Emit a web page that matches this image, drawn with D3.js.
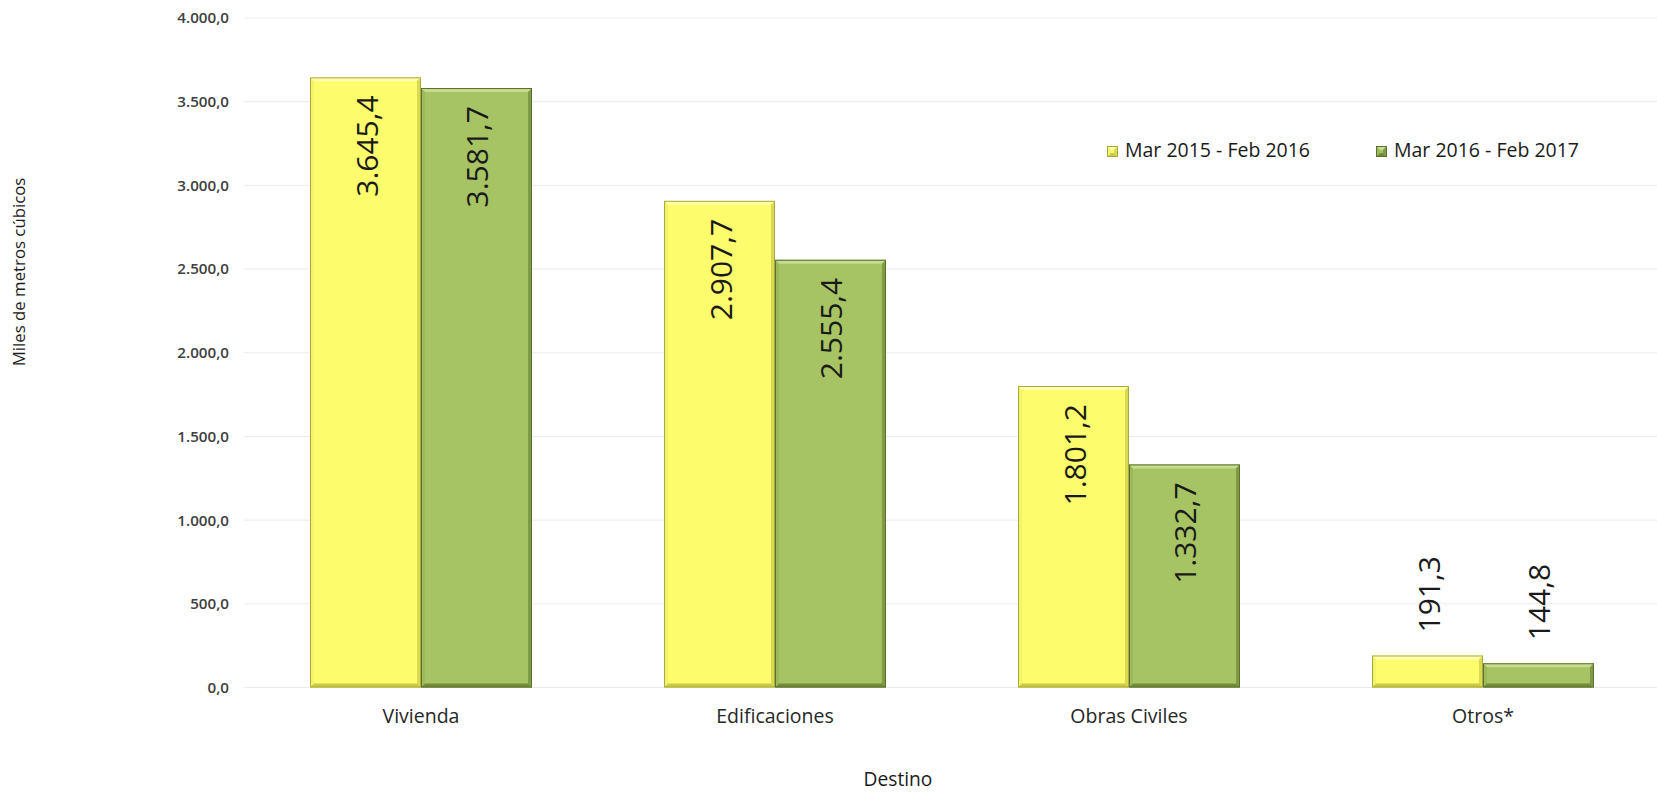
<!DOCTYPE html>
<html>
<head>
<meta charset="utf-8">
<script src="https://cdn.jsdelivr.net/npm/d3@7"></script>
<style>
  html, body { margin: 0; padding: 0; background: #ffffff; }
  svg { display: block; font-family: "Open Sans", "Noto Sans", sans-serif; }
</style>
</head>
<body>
<svg id="chart" width="1657" height="794"></svg>
<script>
// ---- data ----
const categories = ["Vivienda", "Edificaciones", "Obras Civiles", "Otros*"];
const seriesNames = ["Mar 2015 - Feb 2016", "Mar 2016 - Feb 2017"];
const values2015 = [3645.4, 2907.7, 1801.2, 191.3];
const values2016 = [3581.7, 2555.4, 1332.7, 144.8];
const yTickValues = [0, 500, 1000, 1500, 2000, 2500, 3000, 3500, 4000];
const yTitle = "Miles de metros cúbicos";
const xTitle = "Destino";

// ---- setup ----
const W = 1657, H = 794;
const svg = d3.select("#chart");
const locale = d3.formatLocale({decimal: ",", thousands: ".", grouping: [3], currency: ["", ""]});
const fmt = locale.format(",.1f");

const plot = {left: 244, right: 1660, top: 18, bottom: 687.5};

const x0 = d3.scaleBand().domain(categories)
  .range([plot.left, plot.right])
  .paddingInner(0.373).paddingOuter(0.1865);
const x1 = d3.scaleBand().domain(seriesNames).range([0, x0.bandwidth()]).padding(0);
const y = d3.scaleLinear().domain([0, 4000]).range([plot.bottom, plot.top]);

const palettes = [
  {main: "#fcfc6c", top: "#ffffb0", left: "#f4f46c", right: "#d9d952", bottom: "#c9c94a", stroke: "#a9a93c"},
  {main: "#a6c464", top: "#c6dc92", left: "#9cba5c", right: "#809b46", bottom: "#728c3c", stroke: "#5d702f"}
];

// gridlines
svg.append("g").selectAll("line").data(yTickValues).join("line")
  .attr("x1", plot.left).attr("x2", W)
  .attr("y1", d => y(d)).attr("y2", d => y(d))
  .attr("stroke", "#ebebeb").attr("stroke-width", 1);

// y axis labels
const yAxis = d3.axisLeft(y).tickValues(yTickValues).tickFormat(fmt).tickSize(0).tickPadding(0);
const yg = svg.append("g").attr("transform", `translate(229,0)`).call(yAxis);
yg.select(".domain").remove();
yg.selectAll("text")
  .attr("font-family", "'Open Sans', sans-serif")
  .attr("font-size", 15.2).attr("font-weight", 600).attr("fill", "#404040");

// x axis labels
const xAxis = d3.axisBottom(x0).tickSize(0).tickPadding(0);
const xg = svg.append("g").attr("transform", `translate(0,${plot.bottom})`).call(xAxis);
xg.select(".domain").remove();
xg.selectAll("text")
  .attr("font-family", "'Open Sans', sans-serif")
  .attr("font-size", 19.5).attr("fill", "#262626")
  .attr("dy", null).attr("y", 35.5);

// bevelled bar
function bevelBar(g, x, yTop, w, h, p) {
  const b = Math.min(4, h / 2);
  const bg = g.append("g");
  bg.append("rect").attr("x", x).attr("y", yTop).attr("width", w).attr("height", h).attr("fill", p.main);
  const poly = (pts, fill) => bg.append("polygon").attr("points", pts.map(q => q.join(",")).join(" ")).attr("fill", fill);
  poly([[x, yTop], [x + w, yTop], [x + w - b, yTop + b], [x + b, yTop + b]], p.top);
  poly([[x, yTop], [x + b, yTop + b], [x + b, yTop + h - b], [x, yTop + h]], p.left);
  poly([[x + w, yTop], [x + w, yTop + h], [x + w - b, yTop + h - b], [x + w - b, yTop + b]], p.right);
  poly([[x, yTop + h], [x + b, yTop + h - b], [x + w - b, yTop + h - b], [x + w, yTop + h]], p.bottom);
  bg.append("rect").attr("x", x + 0.5).attr("y", yTop + 0.5).attr("width", w - 1).attr("height", h - 1)
    .attr("fill", "none").attr("stroke", p.stroke).attr("stroke-width", 1);
}

const seriesValues = [values2015, values2016];
const barsG = svg.append("g");
const labelsG = svg.append("g");
categories.forEach((c, i) => {
  seriesNames.forEach((s, j) => {
    const v = seriesValues[j][i];
    const bx = x0(c) + x1(s);
    const bw = x1.bandwidth();
    const yt = y(v);
    const h = y(0) - yt;
    bevelBar(barsG, bx, yt, bw, h, palettes[j]);
    const cx = bx + bw / 2 + 12;
    const inside = h > 130;
    labelsG.append("text")
      .attr("transform", inside ? `translate(${cx},${yt + 18}) rotate(-90)` : `translate(${cx},${yt - 23}) rotate(-90)`)
      .attr("text-anchor", inside ? "end" : "start")
      .attr("font-family", "'Open Sans', sans-serif")
      .attr("font-size", 30).attr("fill", "#1a1a1a")
      .text(fmt(v));
  });
});

// legend
const legendX = [1107, 1376];
const lg = svg.append("g");
seriesNames.forEach((s, j) => {
  bevelBar(lg, legendX[j], 146, 11, 11, Object.assign({}, palettes[j]));
  lg.append("text").attr("x", legendX[j] + 18).attr("y", 156.5)
    .attr("font-family", "'Open Sans', sans-serif")
    .attr("font-size", 19.5).attr("fill", "#1a1a1a").text(s);
});

// axis titles
svg.append("text")
  .attr("transform", `translate(25,272) rotate(-90)`)
  .attr("text-anchor", "middle")
  .attr("font-family", "'Open Sans', sans-serif")
  .attr("font-size", 16.8).attr("fill", "#1a1a1a").text(yTitle);
svg.append("text")
  .attr("x", 898).attr("y", 786)
  .attr("text-anchor", "middle")
  .attr("font-family", "'Open Sans', sans-serif")
  .attr("font-size", 19.2).attr("fill", "#1a1a1a").text(xTitle);
</script>
</body>
</html>
